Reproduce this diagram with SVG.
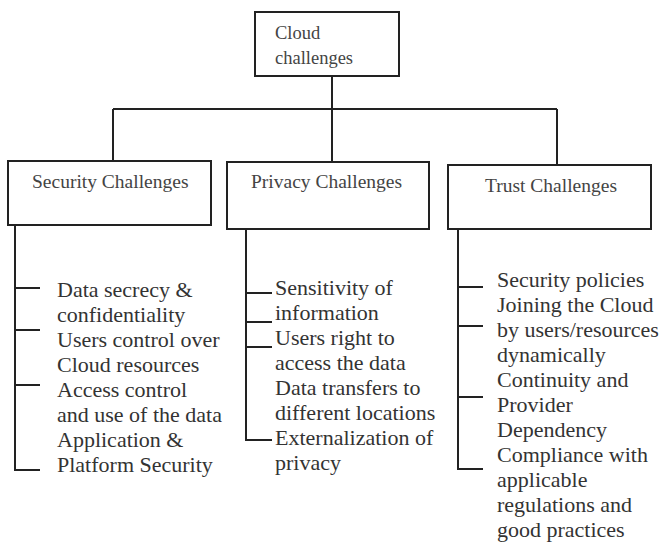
<svg xmlns="http://www.w3.org/2000/svg" width="660" height="545" viewBox="0 0 660 545">
<style>
.box{fill:#fff;stroke:#222;stroke-width:2}
.ln{fill:none;stroke:#222;stroke-width:2}
.hd{font-family:"Liberation Serif","Times New Roman",serif;font-size:19.5px;fill:#444}
.it{font-family:"Liberation Serif","Times New Roman",serif;font-size:22px;fill:#333}
</style>
<rect width="660" height="545" fill="#fff"/>
<g id="connectors">
<path class="ln" d="M332,76 V109 M113,109 H557 M113,109 V161 M332,109 V162 M557,109 V165"/>
<path class="ln" d="M15,225 V470 H40 M15,288 H40 M15,330 H40 M15,385 H40"/>
<path class="ln" d="M246,229 V440 H272 M246,293 H272 M246,322 H272 M246,347 H272"/>
<path class="ln" d="M458,229 V469 H483 M458,287 H483 M458,326 H483 M458,397 H483"/>
</g>
<g id="cloud">
<rect class="box" x="255" y="12" width="144" height="64"/>
<text class="hd" x="275" y="39" style="font-size:18.5px">Cloud</text>
<text class="hd" x="275" y="64" style="font-size:18.5px">challenges</text>
</g>
<g id="security">
<rect class="box" x="8" y="161" width="203" height="64"/>
<text class="hd" x="32" y="188">Security Challenges</text>
<text class="it"><tspan x="57" y="297">Data secrecy &amp;</tspan><tspan x="57" y="322">confidentiality</tspan><tspan x="57" y="347">Users control over</tspan><tspan x="57" y="372">Cloud resources</tspan><tspan x="57" y="397">Access control</tspan><tspan x="57" y="422">and use of the data</tspan><tspan x="57" y="447">Application &amp;</tspan><tspan x="57" y="472">Platform Security</tspan></text>
</g>
<g id="privacy">
<rect class="box" x="227" y="162" width="202" height="67"/>
<text class="hd" x="251" y="188">Privacy Challenges</text>
<text class="it"><tspan x="275" y="295">Sensitivity of</tspan><tspan x="275" y="320">information</tspan><tspan x="275" y="345">Users right to</tspan><tspan x="275" y="370">access the data</tspan><tspan x="275" y="395">Data transfers to</tspan><tspan x="275" y="420">different locations</tspan><tspan x="275" y="445">Externalization of</tspan><tspan x="275" y="470">privacy</tspan></text>
</g>
<g id="trust">
<rect class="box" x="448" y="165" width="203" height="64"/>
<text class="hd" x="485" y="192">Trust Challenges</text>
<text class="it"><tspan x="497" y="287">Security policies</tspan><tspan x="497" y="312">Joining the Cloud</tspan><tspan x="497" y="337">by users/resources</tspan><tspan x="497" y="362">dynamically</tspan><tspan x="497" y="387">Continuity and</tspan><tspan x="497" y="412">Provider</tspan><tspan x="497" y="437">Dependency</tspan><tspan x="497" y="462">Compliance with</tspan><tspan x="497" y="487">applicable</tspan><tspan x="497" y="512">regulations and</tspan><tspan x="497" y="537">good practices</tspan></text>
</g>
</svg>
